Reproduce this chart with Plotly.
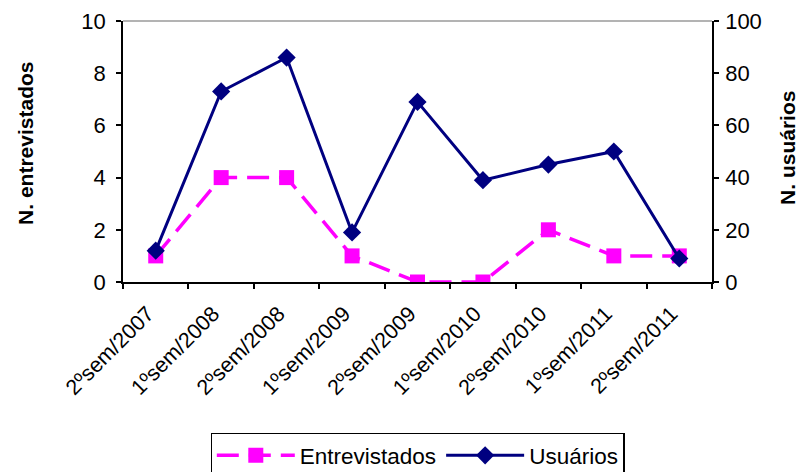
import plotly.graph_objects as go

categories = ["2ºsem/2007", "1ºsem/2008", "2ºsem/2008", "1ºsem/2009", "2ºsem/2009",
              "1ºsem/2010", "2ºsem/2010", "1ºsem/2011", "2ºsem/2011"]
entrevistados = [1, 4, 4, 1, 0, 0, 2, 1, 1]
usuarios = [12, 73, 86, 19, 69, 39, 45, 50, 9]
left_ticks = [0, 2, 4, 6, 8, 10]
right_ticks = [0, 20, 40, 60, 80, 100]

FONT = "Liberation Sans, Arial, sans-serif"
n = len(categories)
bounds = [i - 0.5 for i in range(n + 1)]

fig = go.Figure()
fig.add_trace(go.Scatter(
    x=categories, y=entrevistados, name="Entrevistados", yaxis="y",
    mode="lines+markers",
    line=dict(color="#FF00FF", width=3.5, dash="22px,10px"),
    marker=dict(symbol="square", size=15, color="#FF00FF"),
))
fig.add_trace(go.Scatter(
    x=categories, y=usuarios, name="Usuários", yaxis="y2",
    mode="lines+markers",
    line=dict(color="#000080", width=3),
    marker=dict(symbol="diamond", size=14, color="#000080"),
))

ytickfont = dict(family=FONT, size=22, color="black")
xtickfont = dict(family=FONT, size=21.5, color="black")
fig.update_layout(
    width=800, height=472,
    margin=dict(l=123, r=88, t=21, b=190, autoexpand=False),
    paper_bgcolor="white", plot_bgcolor="white",
    font=dict(family=FONT, size=21, color="black"),
    showlegend=True,
    legend=dict(orientation="h", x=0.5, xanchor="center", y=-0.578, yanchor="top",
                bordercolor="black", borderwidth=1.3, font=dict(family=FONT, size=22.5),
                itemwidth=78, tracegroupgap=0, bgcolor="white"),
    xaxis=dict(type="category", categoryorder="array", categoryarray=categories,
               range=[-0.5, n - 0.5], tickson="boundaries", ticks="outside", ticklen=5,
               tickcolor="black", tickwidth=1.5, showline=True, linecolor="black",
               linewidth=1.5, showgrid=False, zeroline=False, tickangle=-45,
               tickfont=xtickfont, ticklabelstandoff=9, ticklabelshift=-8),
    xaxis2=dict(overlaying="x", anchor="y", side="bottom", range=[-0.5, n - 0.5],
                tickmode="array", tickvals=bounds, ticks="inside", ticklen=5,
                tickcolor="black", tickwidth=1.5, showticklabels=False,
                showgrid=False, zeroline=False, showline=False),
    yaxis=dict(range=[0, 10], tickmode="array", tickvals=left_ticks, ticks="outside",
               ticklen=5, tickcolor="black", tickwidth=1.5, showline=True,
               linecolor="black", linewidth=1.5, showgrid=False, zeroline=False,
               tickfont=ytickfont, ticklabelstandoff=6),
    yaxis2=dict(range=[0, 100], tickmode="array", tickvals=right_ticks, overlaying="y",
                side="right", anchor="x", ticks="outside", ticklen=5, tickcolor="black",
                tickwidth=1.5, showline=True, linecolor="black", linewidth=1.5,
                showgrid=False, zeroline=False, tickfont=ytickfont, ticklabelstandoff=2),
    yaxis3=dict(range=[0, 10], tickmode="array", tickvals=left_ticks, overlaying="y",
                side="left", anchor="x", ticks="inside", ticklen=5, tickcolor="black",
                tickwidth=1.5, showticklabels=False, showgrid=False, zeroline=False),
    yaxis4=dict(range=[0, 100], tickmode="array", tickvals=right_ticks, overlaying="y",
                side="right", anchor="x", ticks="inside", ticklen=5, tickcolor="black",
                tickwidth=1.5, showticklabels=False, showgrid=False, zeroline=False),
    shapes=[dict(type="line", xref="paper", yref="paper", x0=0, x1=1, y0=1, y1=1,
                 line=dict(color="#9a9a9a", width=1.5), layer="below")],
    annotations=[
        dict(text="<b>N. entrevistados</b>", xref="paper", yref="paper",
             x=-0.166, y=0.53, xanchor="center", yanchor="middle", textangle=-90,
             showarrow=False, font=dict(family=FONT, size=21, color="black")),
        dict(text="<b>N. usuários</b>", xref="paper", yref="paper",
             x=1.127, y=0.513, xanchor="center", yanchor="middle", textangle=-90,
             showarrow=False, font=dict(family=FONT, size=21, color="black")),
    ],
)

fig.write_html("out.html", config={"displayModeBar": False},
               post_script="document.body.style.margin='0';document.body.style.overflow='hidden';")
